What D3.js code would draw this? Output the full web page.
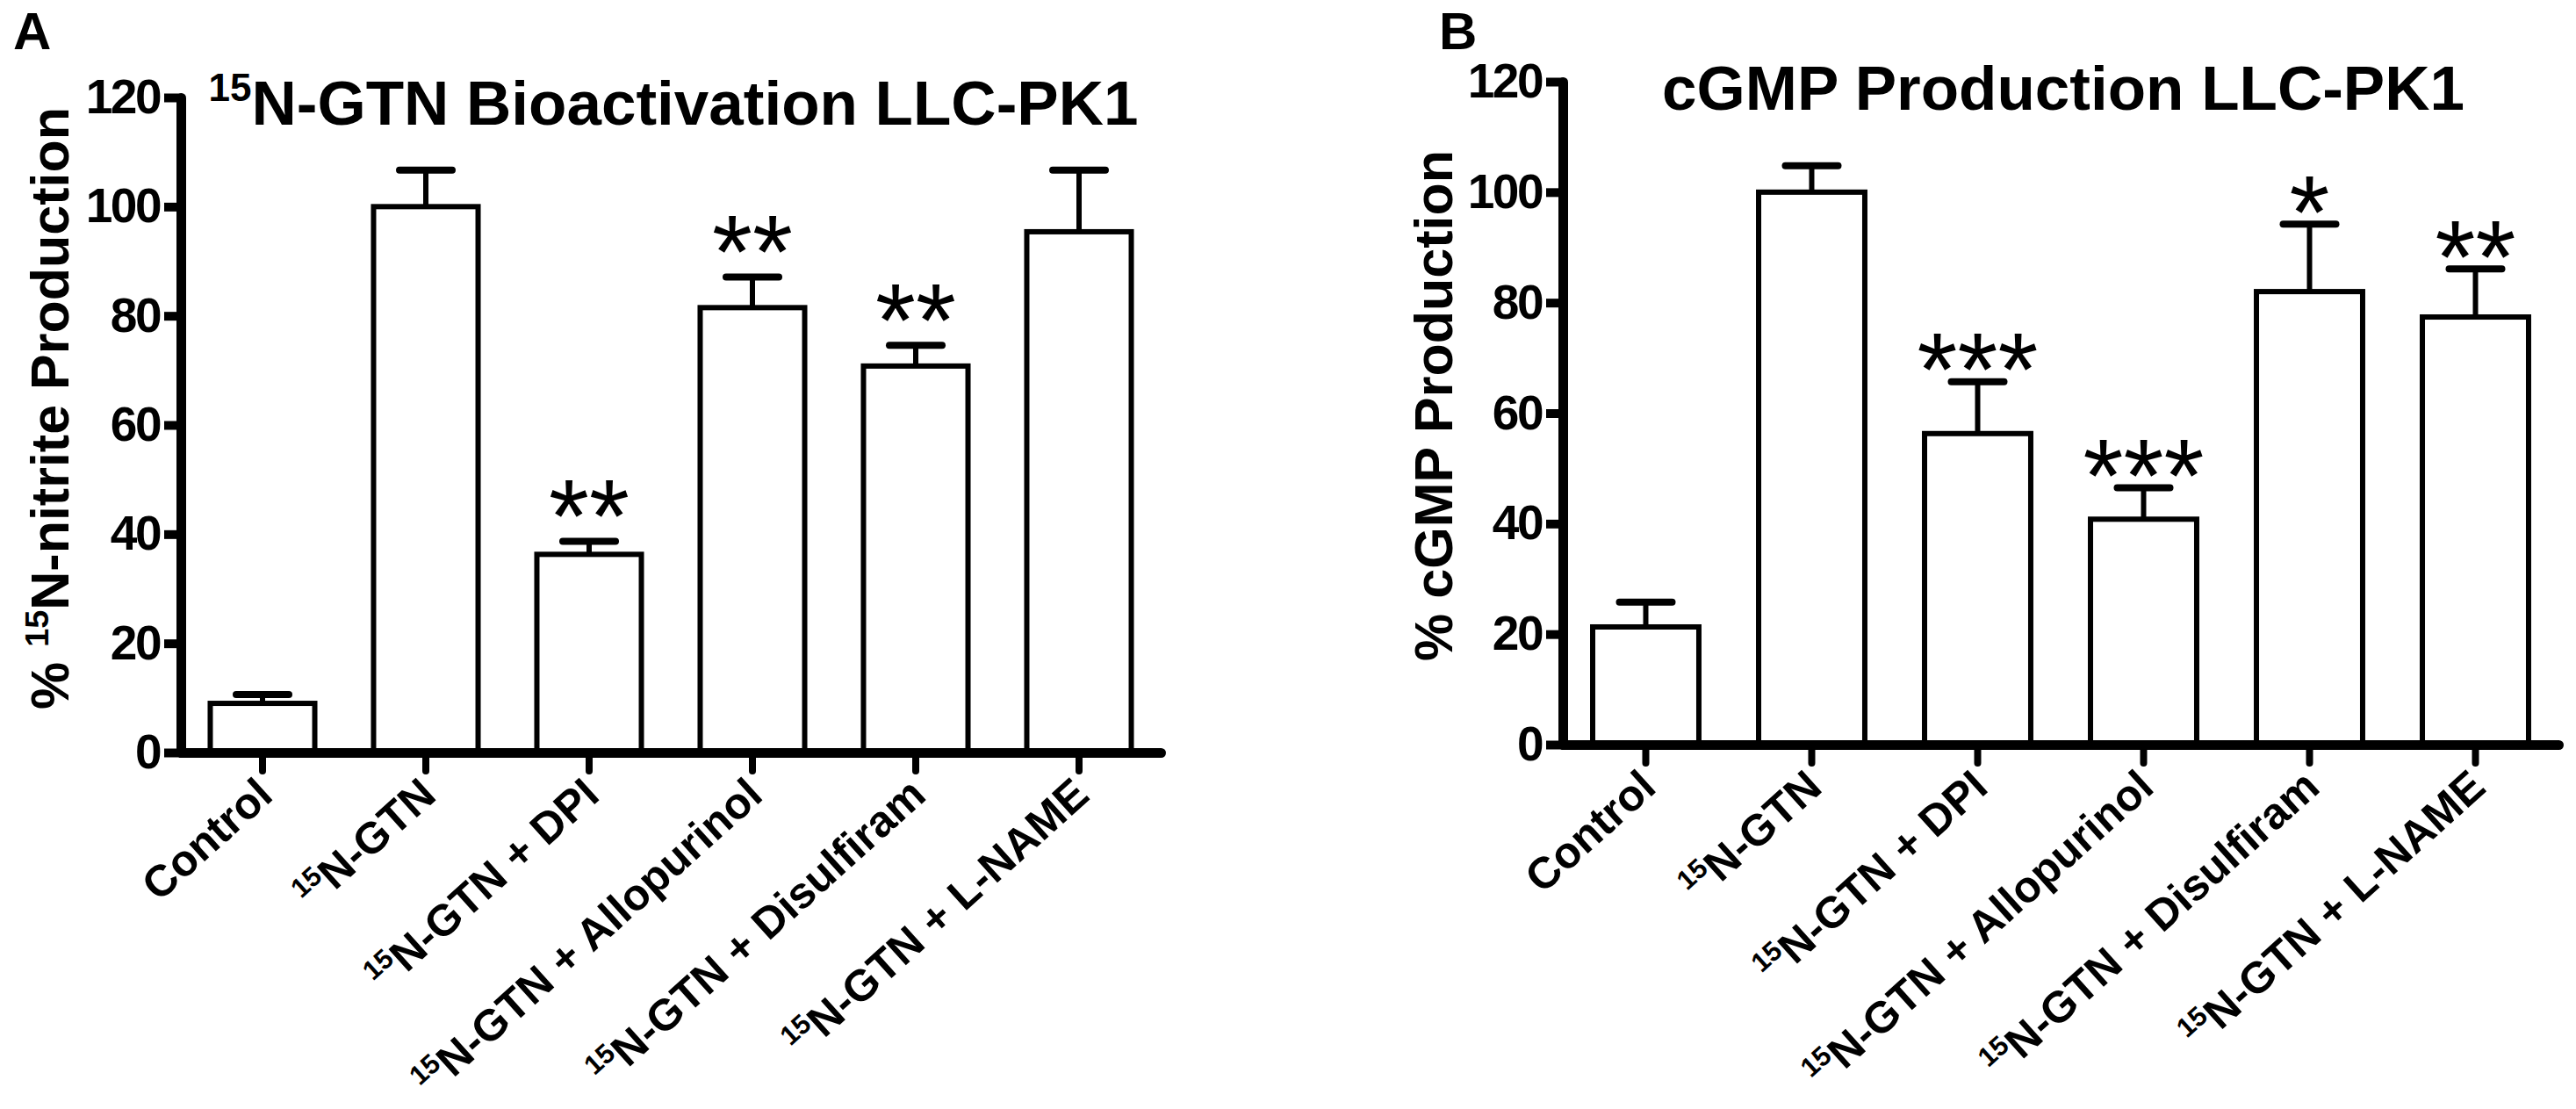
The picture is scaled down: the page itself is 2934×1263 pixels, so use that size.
<!DOCTYPE html>
<html>
<head>
<meta charset="utf-8">
<script src="https://cdn.jsdelivr.net/npm/d3@7"></script>
<style>
  html, body { margin: 0; padding: 0; background: #fff; }
  text { font-family: "Liberation Sans", Arial, sans-serif; fill: #000; }
</style>
</head>
<body>
<div id="chart"></div>
<script>
// groups shared by both panels ("15" at the start is drawn as a superscript)
const categories = ['Control', '15N-GTN', '15N-GTN + DPI', '15N-GTN + Allopurinol',
                    '15N-GTN + Disulfiram', '15N-GTN + L-NAME'];
const yTicks = [0, 20, 40, 60, 80, 100, 120];

// panel A: 15N-nitrite production (% of 15N-GTN), mean and SEM
const nitriteMean = [9.0, 100, 36.3, 81.5, 70.8, 95.4];
const nitriteSem = [1.6, 6.7, 2.4, 5.6, 3.8, 11.3];
const nitriteStars = ['', '', '**', '**', '**', ''];

// panel B: cGMP production (% of 15N-GTN), mean and SEM
const cgmpMean = [21.3, 100, 56.3, 40.8, 82.0, 77.4];
const cgmpSem = [4.5, 4.8, 9.4, 5.7, 12.2, 8.7];
const cgmpStars = ['', '', '***', '***', '*', '**'];

const width = 2934;
const height = 1263;

const svg = d3.select('#chart')
    .append('svg')
    .attr('width', width)
    .attr('height', height);

svg.append('rect').attr('width', width).attr('height', height).attr('fill', '#fff');

// writes text, turning a leading "15" before "N" into a superscript
function isotopeText(sel, label, size) {
    if (label.startsWith('15N')) {
        sel.append('tspan').attr('font-size', size * 0.62).attr('dy', -size * 0.38).text('15');
        sel.append('tspan').attr('font-size', size).attr('dy', size * 0.38).text(label.slice(2));
    } else {
        sel.append('tspan').attr('font-size', size).text(label);
    }
}

function drawPanel(p) {
    const g = svg.append('g');

    const x = d3.scaleBand()
        .domain(categories)
        .range([p.left, p.right])
        .paddingInner(0.36)
        .paddingOuter(0.18);

    const y = d3.scaleLinear()
        .domain([0, 120])
        .range([p.bottom, p.top]);

    const rows = categories.map((c, i) => ({ c, mean: p.mean[i], sem: p.sem[i], star: p.stars[i] }));

    // bars
    g.selectAll('rect.bar')
        .data(rows)
        .enter()
        .append('rect')
        .attr('class', 'bar')
        .attr('x', d => x(d.c))
        .attr('width', x.bandwidth())
        .attr('y', d => y(d.mean))
        .attr('height', d => y(0) - y(d.mean))
        .attr('fill', '#fff')
        .attr('stroke', '#000')
        .attr('stroke-width', 6);

    // upper error bars
    const cx = d => x(d.c) + x.bandwidth() / 2;
    g.selectAll('line.err')
        .data(rows)
        .enter()
        .append('line')
        .attr('x1', cx).attr('x2', cx)
        .attr('y1', d => y(d.mean))
        .attr('y2', d => y(d.mean + d.sem))
        .attr('stroke', '#000')
        .attr('stroke-width', 6);

    g.selectAll('line.cap')
        .data(rows)
        .enter()
        .append('line')
        .attr('x1', d => cx(d) - 30).attr('x2', d => cx(d) + 30)
        .attr('y1', d => y(d.mean + d.sem))
        .attr('y2', d => y(d.mean + d.sem))
        .attr('stroke', '#000')
        .attr('stroke-width', 8)
        .attr('stroke-linecap', 'round');

    // significance stars
    const starSize = 118;
    g.selectAll('text.star')
        .data(rows.filter(d => d.star))
        .enter()
        .append('text')
        .attr('x', cx)
        .attr('y', d => y(d.mean + d.sem) - p.starGap + starSize * 0.43)
        .attr('text-anchor', 'middle')
        .attr('font-size', starSize)
        .text(d => d.star);

    // y axis
    const yAxis = g.append('g')
        .attr('transform', `translate(${p.left},0)`)
        .call(d3.axisLeft(y).tickValues(yTicks).tickSize(19).tickSizeOuter(0).tickPadding(5));
    yAxis.select('.domain')
        .attr('stroke-width', 11)
        .attr('stroke-linecap', 'round');
    yAxis.selectAll('.tick line').attr('stroke-width', 10);
    yAxis.selectAll('.tick text')
        .attr('font-family', '"Liberation Sans", Arial, sans-serif')
        .attr('font-weight', 'bold')
        .attr('font-size', 55)
        .attr('letter-spacing', -2.5);

    // x axis
    const xAxis = g.append('g')
        .attr('transform', `translate(0,${p.bottom})`)
        .call(d3.axisBottom(x).tickSize(21).tickSizeOuter(0).tickFormat(''));
    xAxis.select('.domain')
        .attr('stroke-width', 11)
        .attr('stroke-linecap', 'round');
    xAxis.selectAll('.tick line')
        .attr('stroke-width', 8)
        .attr('stroke-linecap', 'round');

    // rotated category labels
    g.selectAll('text.cat')
        .data(categories)
        .enter()
        .append('text')
        .attr('class', 'cat')
        .attr('font-weight', 'bold')
        .attr('text-anchor', 'end')
        .attr('transform', c => `translate(${x(c) + x.bandwidth() / 2 + 14},${p.bottom + 52}) rotate(-42)`)
        .each(function (c) { isotopeText(d3.select(this), c, 50); });

    // title
    const t = g.append('text')
        .attr('x', (p.left + p.right) / 2 + 3)
        .attr('y', p.titleY)
        .attr('text-anchor', 'middle')
        .attr('font-weight', 'bold');
    isotopeText(t, p.title, 71);

    // y axis label
    const yl = g.append('text')
        .attr('transform', `translate(${p.yLabelX},${p.yLabelY}) rotate(-90)`)
        .attr('text-anchor', 'middle')
        .attr('font-weight', 'bold');
    yl.append('tspan').attr('font-size', 61).text('% ');
    p.yLabel.startsWith('15N') ? isotopeText(yl, p.yLabel, 61)
        : yl.append('tspan').attr('font-size', 61).text(p.yLabel);

    // panel letter
    g.append('text')
        .attr('x', p.letterX)
        .attr('y', 56)
        .attr('font-size', 60)
        .attr('font-weight', 'bold')
        .text(p.letter);
}

drawPanel({
    letter: 'A', letterX: 15,
    left: 206, right: 1322, top: 111, bottom: 857,
    mean: nitriteMean, sem: nitriteSem, stars: nitriteStars, starGap: 38,
    title: '15N-GTN Bioactivation LLC-PK1', titleY: 142,
    yLabel: '15N-nitrite Production', yLabelX: 78, yLabelY: 465
});

drawPanel({
    letter: 'B', letterX: 1639,
    left: 1780, right: 2914, top: 93, bottom: 848,
    mean: cgmpMean, sem: cgmpSem, stars: cgmpStars, starGap: 23,
    title: 'cGMP Production LLC-PK1', titleY: 125,
    yLabel: 'cGMP Production', yLabelX: 1654, yLabelY: 462
});
</script>
</body>
</html>
